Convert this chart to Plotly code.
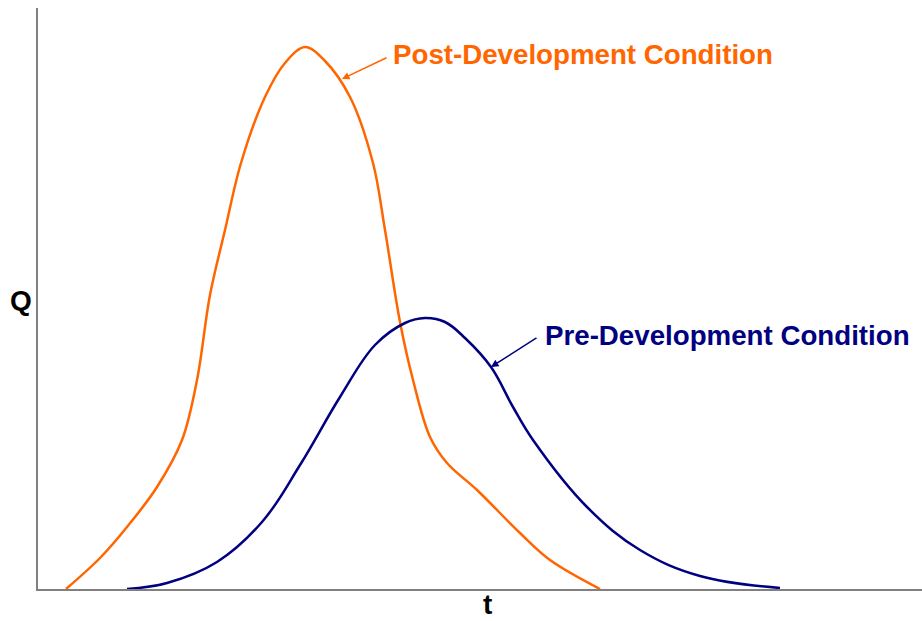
import plotly.graph_objects as go

# Post-development hydrograph (t, Q)
post_t = [28, 62, 89, 119, 144, 159, 172, 187, 203, 227, 247, 267, 287, 312, 335, 347, 362, 375,
          392, 409, 439, 482, 512, 562]
post_q = [0, 31, 62, 102, 149, 209, 294, 359, 426, 492, 526, 542, 528, 492, 426, 359, 267, 209,
          152, 126, 99, 56, 29, 0]

# Pre-development hydrograph (t, Q)
pre_t = [89, 129, 179, 224, 262, 302, 337, 367, 387, 407, 427, 453, 475, 495, 549, 602, 662, 742]
pre_q = [0, 6, 27, 67, 124, 192, 244, 266, 271, 267, 251, 222, 182, 149, 82, 39, 13, 1]

x_max = 884
y_max = 581

post_color = "#FF6600"
pre_color = "#000080"

fig = go.Figure()
fig.add_trace(go.Scatter(x=post_t, y=post_q, mode="lines",
                         line=dict(color=post_color, width=2.5, shape="spline", smoothing=1.0),
                         hoverinfo="skip"))
fig.add_trace(go.Scatter(x=pre_t, y=pre_q, mode="lines",
                         line=dict(color=pre_color, width=2.5, shape="spline", smoothing=1.1),
                         hoverinfo="skip"))

font_b = "Liberation Sans"

# Labels
fig.add_annotation(x=353, y=535, xref="x", yref="y", text="<b>Post-Development Condition</b>",
                   showarrow=False, xanchor="left", yanchor="middle",
                   font=dict(family=font_b, size=27.7, color=post_color))
fig.add_annotation(x=304, y=510, xref="x", yref="y", ax=350, ay=532, axref="x", ayref="y",
                   text="", showarrow=True, arrowhead=2, arrowsize=1, arrowwidth=1.5,
                   arrowcolor=post_color)

fig.add_annotation(x=505, y=254, xref="x", yref="y", text="<b>Pre-Development Condition</b>",
                   showarrow=False, xanchor="left", yanchor="middle",
                   font=dict(family=font_b, size=27.7, color=pre_color))
fig.add_annotation(x=453, y=222, xref="x", yref="y", ax=500, ay=252, axref="x", ayref="y",
                   text="", showarrow=True, arrowhead=2, arrowsize=1, arrowwidth=1.5,
                   arrowcolor=pre_color)

# Axis titles
fig.add_annotation(x=-0.0187, y=0.497, xref="paper", yref="paper", text="<b>Q</b>", showarrow=False,
                   xanchor="center", yanchor="middle",
                   font=dict(family=font_b, size=28, color="black"))
fig.add_annotation(x=0.509, y=-0.0551, xref="paper", yref="paper", text="<b>t</b>", showarrow=False,
                   xanchor="center", yanchor="bottom", borderpad=0,
                   font=dict(family=font_b, size=28, color="black"))

fig.update_xaxes(range=[0, x_max], showgrid=False, zeroline=False, showticklabels=False,
                 ticks="", showline=True, linecolor="#808080", linewidth=1.5)
fig.update_yaxes(range=[0, y_max], showgrid=False, zeroline=False, showticklabels=False,
                 ticks="", showline=True, linecolor="#808080", linewidth=1.5)

fig.update_layout(width=922, height=621, margin=dict(l=38, r=0, t=8, b=32),
                  plot_bgcolor="white", paper_bgcolor="white", showlegend=False)

fig.write_html("out.html", config={"displayModeBar": False},
               post_script="document.body.style.margin='0';document.body.style.overflow='hidden';")
